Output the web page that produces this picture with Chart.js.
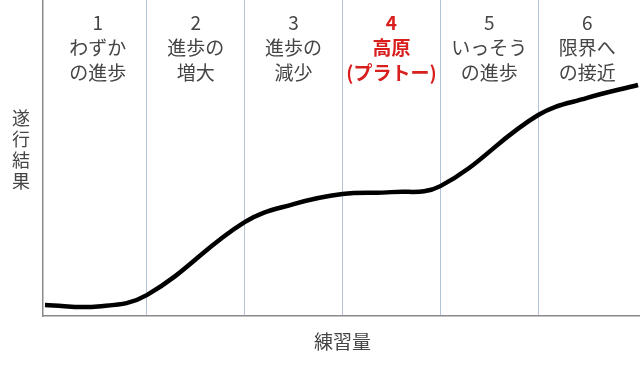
<!DOCTYPE html>
<html>
<head>
<meta charset="utf-8">
<script src="https://cdn.jsdelivr.net/npm/chart.js@4.4.0/dist/chart.umd.min.js"></script>
<style>
  html, body { margin: 0; padding: 0; background: #fff; }
  #wrap { width: 640px; height: 366px; position: relative; }
</style>
</head>
<body>
<div id="wrap"><canvas id="curveChart" width="640" height="366"></canvas></div>
<script>
// learning curve (practice amount -> performance)
const practice = [-0.04, 0.5, 1.0, 2.0, 2.5, 3.0, 3.5, 4.0, 5.0, 5.5, 6.02];
const performance = [3.5, 3.0, 6.6, 29.7, 35.4, 38.6, 39.2, 41.1, 63.6, 69.0, 73.1];

const phaseNumbers = ['1', '2', '3', '4', '5', '6'];
const phaseNames = [
    ['わずか', 'の進歩'],
    ['進歩の', '増大'],
    ['進歩の', '減少'],
    ['高原', '(プラトー)'],
    ['いっそう', 'の進歩'],
    ['限界へ', 'の接近']
];
const highlightPhase = 3;
const yTitle = ['遂', '行', '結', '果'];
const xTitle = '練習量';

const points = practice.map((x, i) => ({ x: x, y: performance[i] }));

const jpFont = '"Noto Sans CJK JP", "Noto Sans", sans-serif';

const labelsPlugin = {
    id: 'phaseLabels',
    afterDraw(chart) {
        const ctx = chart.ctx;
        const xs = chart.scales.x;
        const area = chart.chartArea;
        ctx.save();
        ctx.textAlign = 'center';
        ctx.textBaseline = 'middle';
        phaseNumbers.forEach((num, i) => {
            const cx = xs.getPixelForValue(i + 0.5);
            const red = i === highlightPhase;
            ctx.fillStyle = red ? '#d91e1e' : '#454545';
            ctx.font = (red ? 'bold ' : '') + '19px ' + jpFont;
            ctx.fillText(num, cx, 23);
            phaseNames[i].forEach((line, j) => {
                ctx.fillText(line, cx, 48 + j * 24.5);
            });
        });
        // axis titles
        ctx.fillStyle = '#454545';
        ctx.font = '18px ' + jpFont;
        yTitle.forEach((ch, i) => {
            ctx.fillText(ch, 21, 118 + i * 21);
        });
        ctx.font = '19px ' + jpFont;
        ctx.fillText(xTitle, (area.left + area.right) / 2 + 1, 342);
        ctx.restore();
    }
};

const config = {
    type: 'line',
    data: {
        datasets: [{
            data: points,
            borderColor: '#000',
            borderWidth: 4.5,
            pointRadius: 0,
            fill: false,
            tension: 0.4
        }]
    },
    options: {
        responsive: false,
        animation: false,
        layout: { padding: { left: 43, right: 0, top: 0, bottom: 50 } },
        plugins: { legend: { display: false }, tooltip: { enabled: false } },
        scales: {
            x: {
                type: 'linear',
                min: -0.06,
                max: 6.04,
                afterBuildTicks: axis => {
                    axis.ticks = [1, 2, 3, 4, 5].map(v => ({ value: v }));
                },
                ticks: { display: false },
                grid: {
                    drawTicks: false,
                    lineWidth: 1,
                    color: '#b3c3d6'
                },
                border: { color: '#8a8a8a', width: 1.5 }
            },
            y: {
                min: 0,
                max: 100,
                ticks: { display: false },
                grid: { display: false, drawTicks: false },
                border: { color: '#8a8a8a', width: 1.5 }
            }
        }
    },
    plugins: [labelsPlugin]
};

const curveChart = new Chart(document.getElementById('curveChart'), config);
</script>
</body>
</html>
